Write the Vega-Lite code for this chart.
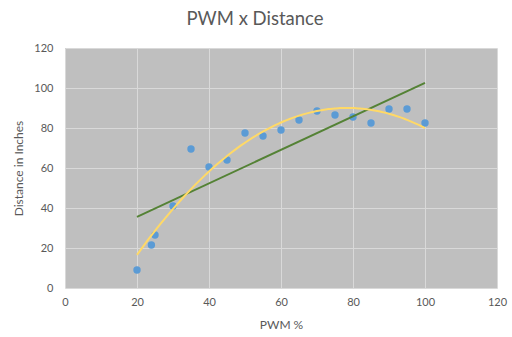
{
  "$schema": "https://vega.github.io/schema/vega-lite/v6.json",
  "autosize": "none",
  "width": 432,
  "height": 240,
  "padding": {"left": 65, "top": 48, "right": 15, "bottom": 49},
  "background": "white",
  "config": {
    "font": "Lato",
    "view": {"fill": "#BFBFBF", "stroke": null},
    "axis": {
      "grid": true,
      "gridColor": "#D9D9D9",
      "gridWidth": 1,
      "domain": false,
      "ticks": false,
      "labelFlush": false,
      "labelColor": "#595959",
      "labelFontSize": 11,
      "titleColor": "#595959",
      "titleFontSize": 12,
      "titleFontWeight": "normal"
    }
  },
  "title": {
    "text": "PWM x Distance",
    "fontSize": 18.5,
    "fontWeight": "normal",
    "color": "#595959",
    "anchor": "middle",
    "dx": -26,
    "offset": 14
  },
  "data": {
    "values": [
      {"pwm": 20, "dist": 9},
      {"pwm": 24, "dist": 21.5},
      {"pwm": 25, "dist": 26.5},
      {"pwm": 30, "dist": 41},
      {"pwm": 35, "dist": 69.5},
      {"pwm": 40, "dist": 60.5},
      {"pwm": 45, "dist": 64},
      {"pwm": 50, "dist": 77.5},
      {"pwm": 55, "dist": 76},
      {"pwm": 60, "dist": 79},
      {"pwm": 65, "dist": 84},
      {"pwm": 70, "dist": 88.5},
      {"pwm": 75, "dist": 86.5},
      {"pwm": 80, "dist": 85.5},
      {"pwm": 85, "dist": 82.5},
      {"pwm": 90, "dist": 89.5},
      {"pwm": 95, "dist": 89.5},
      {"pwm": 100, "dist": 82.5}
    ]
  },
  "encoding": {
    "x": {
      "field": "pwm",
      "type": "quantitative",
      "title": "PWM %",
      "scale": {"domain": [0, 120], "nice": false},
      "axis": {"values": [0, 20, 40, 60, 80, 100, 120], "labelPadding": 8, "titlePadding": 12}
    },
    "y": {
      "field": "dist",
      "type": "quantitative",
      "title": "Distance in Inches",
      "scale": {"domain": [0, 120], "nice": false},
      "axis": {"values": [0, 20, 40, 60, 80, 100, 120], "labelPadding": 12, "titlePadding": 8}
    }
  },
  "layer": [
    {
      "mark": {"type": "circle", "size": 55, "color": "#5B9BD5", "opacity": 1}
    },
    {
      "transform": [{"regression": "dist", "on": "pwm", "method": "linear"}],
      "mark": {"type": "line", "color": "#548235", "strokeWidth": 2}
    },
    {
      "transform": [{"regression": "dist", "on": "pwm", "method": "poly", "order": 2}],
      "mark": {"type": "line", "color": "#FFD966", "strokeWidth": 2}
    }
  ]
}
